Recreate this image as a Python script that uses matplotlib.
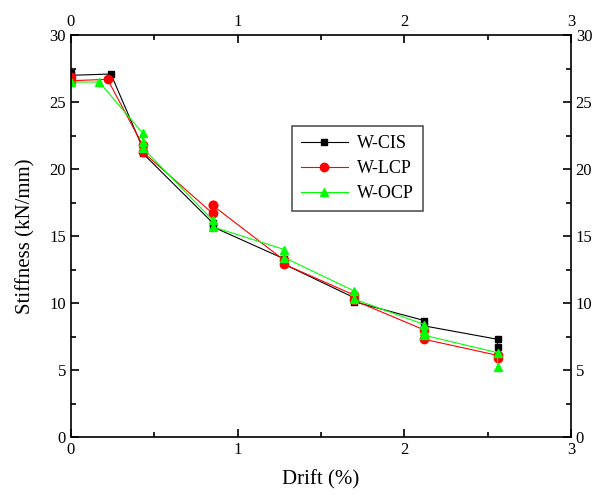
import matplotlib
matplotlib.use("Agg")
import matplotlib.pyplot as plt
from matplotlib.ticker import MultipleLocator

plt.rcParams['font.family'] = ['Liberation Serif', 'DejaVu Serif']

cis_x = [0, 0, 0.24, 0.43, 0.43, 0.85, 0.85, 1.28, 1.28, 1.70, 1.70, 2.12, 2.12, 2.56, 2.56]
cis_y = [27.2, 27.0, 27.1, 21.6, 21.2, 16.0, 15.7, 13.3, 12.9, 10.4, 10.1, 8.7, 8.3, 7.3, 6.7]

lcp_x = [0, 0, 0.22, 0.43, 0.43, 0.85, 0.85, 0.85, 1.28, 1.28, 1.70, 1.70, 2.12, 2.12, 2.56, 2.56]
lcp_y = [26.9, 26.6, 26.7, 21.8, 21.3, 16.7, 17.3, 17.3, 13.2, 12.9, 10.6, 10.2, 8.0, 7.3, 6.1, 5.9]

ocp_x = [0, 0.17, 0.43, 0.43, 0.43, 0.85, 0.85, 1.28, 1.28, 1.70, 1.70, 2.12, 2.12, 2.12, 2.56, 2.56]
ocp_y = [26.5, 26.5, 22.7, 22.0, 21.6, 16.2, 15.7, 14.0, 13.4, 10.9, 10.3, 8.4, 7.9, 7.6, 6.3, 5.2]

fig = plt.figure(figsize=(6.06, 4.95), dpi=100)
ax = fig.add_axes([0.117, 0.117, 0.825, 0.812])

ax.plot(cis_x, cis_y, color='black', lw=0.8, marker='s', ms=5, label='W-CIS')
ax.plot(lcp_x, lcp_y, color='red', lw=0.8, marker='o', ms=6, label='W-LCP')
ax.plot(ocp_x, ocp_y, color='#00FF00', lw=0.8, marker='^', ms=6, label='W-OCP')

ax.set_xlim(0, 3)
ax.set_ylim(0, 30)
ax.xaxis.set_major_locator(MultipleLocator(1))
ax.xaxis.set_minor_locator(MultipleLocator(0.5))
ax.yaxis.set_major_locator(MultipleLocator(5))
ax.yaxis.set_minor_locator(MultipleLocator(2.5))
ax.tick_params(which='both', direction='in', top=True, right=True,
               labeltop=True, labelright=True, labelsize=12, width=1.2)
ax.tick_params(which='major', length=6)
ax.tick_params(which='minor', length=3.5)
for s in ax.spines.values():
    s.set_linewidth(1.2)

ax.set_xlabel('Drift (%)', fontsize=15, labelpad=9)
ax.set_ylabel('Stiffness (kN/mm)', fontsize=15, labelpad=10)

leg = ax.legend(loc='upper left', bbox_to_anchor=(0.442, 0.774), fontsize=13,
                fancybox=False, edgecolor='#555555', framealpha=1,
                handlelength=2.6, borderpad=0.5, labelspacing=0.45,
                borderaxespad=0, handletextpad=0.5)
leg.get_frame().set_linewidth(1.2)

fig.savefig('out.png', dpi=100)
